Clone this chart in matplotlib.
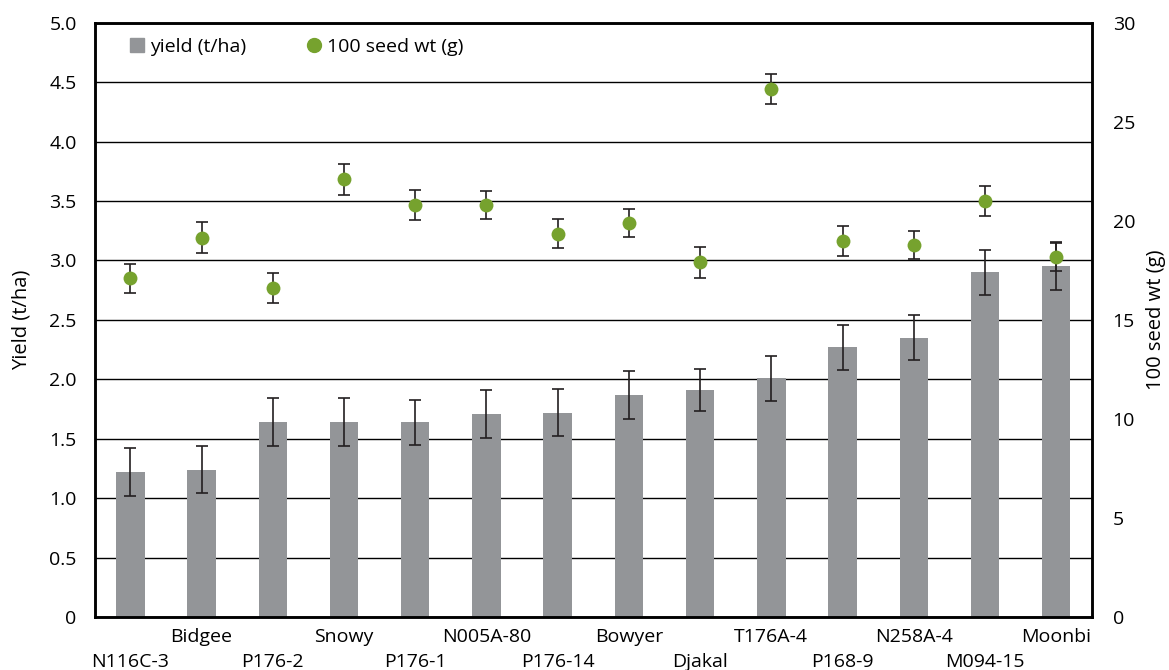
import matplotlib
matplotlib.use("Agg")
import matplotlib.pyplot as plt
from matplotlib.lines import Line2D
import numpy as np

plt.rcParams['font.family'] = ['Open Sans', 'DejaVu Sans']

# Genotypes / varieties
categories = ["N116C-3", "Bidgee", "P176-2", "Snowy", "P176-1", "N005A-80", "P176-14",
              "Bowyer", "Djakal", "T176A-4", "P168-9", "N258A-4", "M094-15", "Moonbi"]

# Grain yield (t/ha) and its error
yield_t = [1.22, 1.24, 1.64, 1.64, 1.64, 1.71, 1.72, 1.87, 1.91, 2.01, 2.27, 2.35, 2.90, 2.95]
yield_err = [0.20, 0.20, 0.20, 0.20, 0.19, 0.20, 0.20, 0.20, 0.18, 0.19, 0.19, 0.19, 0.19, 0.20]

# 100 seed weight (g) and its error
seed_wt = [17.1, 19.15, 16.6, 22.1, 20.8, 20.8, 19.35, 19.9, 17.9, 26.65, 19.0, 18.8, 21.0, 18.2]
seed_err = [0.72, 0.78, 0.77, 0.77, 0.76, 0.72, 0.72, 0.72, 0.80, 0.75, 0.75, 0.70, 0.77, 0.72]

left_ticks = [0, 0.5, 1.0, 1.5, 2.0, 2.5, 3.0, 3.5, 4.0, 4.5, 5.0]
left_ticklabels = ["0", "0.5", "1.0", "1.5", "2.0", "2.5", "3.0", "3.5", "4.0", "4.5", "5.0"]
right_ticks = [0, 5, 10, 15, 20, 25, 30]

bar_color = "#939598"
dot_color = "#76A22E"
ink = "#231F20"

fig = plt.figure(figsize=(11.69, 6.70), dpi=100)
ax = fig.add_axes([0.081, 0.079, 0.853, 0.887])
x = np.arange(len(categories))

ax.bar(x, yield_t, width=0.4, color=bar_color, zorder=2)
ax.errorbar(x, yield_t, yerr=yield_err, fmt="none", ecolor=ink, elinewidth=1.2,
            capsize=4.5, capthick=1.2, zorder=3)

ax.set_ylim(0, 5)
ax.set_xlim(-0.5, len(categories) - 0.5)
ax.set_yticks(left_ticks)
ax.set_yticklabels(left_ticklabels)
ax.yaxis.grid(True, color="black", linewidth=1.0, zorder=0)
ax.set_axisbelow(True)
ax.set_ylabel("Yield (t/ha)", fontsize=14.5, va="center")
ax.yaxis.set_label_coords(-0.073, 0.5)
ax.tick_params(axis="y", length=0, labelsize=14, pad=13)
ax.tick_params(axis="x", length=0)
ax.set_xticks(x)
ax.set_xticklabels([])
for s in ax.spines.values():
    s.set_linewidth(1.8)
    s.set_color("black")

# Staggered category labels: alternate rows
for i, name in enumerate(categories):
    y_off = -0.033 if i % 2 == 1 else -0.075
    ax.text(i, y_off, name, transform=ax.get_xaxis_transform(), ha="center", va="center",
            fontsize=14, color="black")

ax2 = ax.twinx()
ax2.errorbar(x, seed_wt, yerr=seed_err, fmt="none", ecolor=ink, elinewidth=1.2,
             capsize=4.5, capthick=1.2, zorder=3)
ax2.plot(x, seed_wt, "o", color=dot_color, markersize=10, markeredgewidth=0, zorder=4)
ax2.set_ylim(0, 30)
ax2.set_yticks(right_ticks)
ax2.tick_params(axis="y", length=0, labelsize=14, pad=15)
ax2.set_ylabel("100 seed wt (g)", fontsize=14.5, rotation=90, va="center")
ax2.yaxis.set_label_coords(1.064, 0.5)
for s in ax2.spines.values():
    s.set_linewidth(1.8)
    s.set_color("black")

handles = [Line2D([0], [0], marker="s", linestyle="none", color=bar_color, markersize=10),
           Line2D([0], [0], marker="o", linestyle="none", color=dot_color, markersize=10)]
ax2.legend(handles, ["yield (t/ha)", "100 seed wt (g)"], ncol=2, frameon=False,
           loc="upper left", bbox_to_anchor=(0.033, 0.975), fontsize=14,
           borderpad=0, borderaxespad=0, handletextpad=0.15, columnspacing=3.0,
           handlelength=1.0)

fig.savefig("out.png", dpi=100)
